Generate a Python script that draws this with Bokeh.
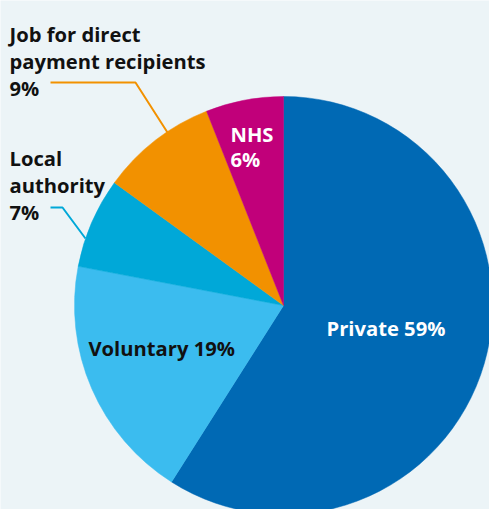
import numpy as np
from bokeh.plotting import figure
from bokeh.models import Range1d, ColumnDataSource
from bokeh.core.properties import value
from bokeh.embed import file_html
from bokeh.resources import INLINE

# ---- data ----
categories = ["Private", "Voluntary", "Local authority", "Job for direct payment recipients", "NHS"]
shares = [59, 19, 7, 9, 6]
colors = ["#0069b4", "#3bbcef", "#00a8d8", "#f29100", "#c1007a"]

# ---- layout (reference pixel coords) ----
W, H = 489, 509
def px(x):
    return x
def py(y):
    return H - y

cx, cy, R = 283, 305, 209

frac = np.array(shares, dtype=float) / sum(shares)
cum_end = np.cumsum(frac)
cum_start = cum_end - frac
start = np.deg2rad(90 - cum_end * 360)
end = np.deg2rad(90 - cum_start * 360)

src = ColumnDataSource(dict(cat=categories, start=start, end=end, color=colors))

p = figure(width=W, height=H, output_backend="svg", toolbar_location=None,
           x_range=Range1d(0, W), y_range=Range1d(0, H),
           min_border=0, background_fill_color="#ecf4f7", border_fill_color="#ecf4f7")
p.axis.visible = False
p.grid.visible = False
p.outline_line_color = None

p.wedge(x=px(cx), y=py(cy), radius=R, start_angle="start", end_angle="end",
        direction="anticlock", fill_color="color", line_color="color", line_width=0.5,
        source=src)

# leader lines
p.line([px(50), px(135), px(167)], [py(82), py(82), py(132)], line_color=colors[3], line_width=2)
p.line([px(50), px(62), px(85)], [py(207), py(207), py(238)], line_color=colors[2], line_width=2)

FONT = value("Open Sans")
FS = "20.2px"

labels_dark = [
    ("Job for direct", 9, 33),
    ("payment recipients", 9, 60),
    ("9%", 9, 87),
    ("Local", 9, 157),
    ("authority", 9, 184),
    ("7%", 9, 211),
    ("Voluntary 19%", 88, 347),
]
labels_light = [
    ("NHS", 230, 133),
    ("6%", 230, 158),
    ("Private 59%", 326, 327),
]

def add_labels(items, color):
    s = ColumnDataSource(dict(t=[a[0] for a in items], x=[px(a[1]) for a in items], y=[py(a[2]) for a in items]))
    p.text(x="x", y="y", text="t", source=s, text_font=FONT, text_font_style="bold",
           text_font_size=FS, text_color=color, text_baseline="alphabetic", text_align="left")

add_labels(labels_dark, "#111111")
add_labels(labels_light, "#ffffff")

open("out.html", "w").write(file_html(p, INLINE))
